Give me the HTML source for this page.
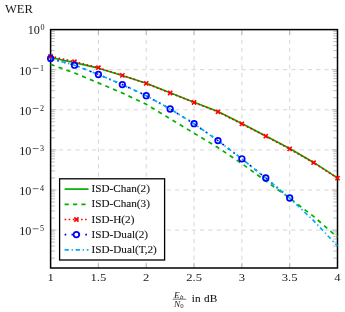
<!DOCTYPE html><html><head><meta charset="utf-8"><style>html,body{margin:0;padding:0;background:#fff}svg{display:block;will-change:transform;opacity:0.999}text{font-family:"Liberation Serif",serif;fill:#1a1a1a}</style></head><body>
<svg width="345" height="312" viewBox="0 0 345 312">
<rect width="345" height="312" fill="#fff"/>
<g stroke="#c4c4c4" stroke-width="0.7" stroke-dasharray="4.15 4.15" fill="none"><line x1="98.42" y1="268.00" x2="98.42" y2="29.60"/><line x1="146.23" y1="268.00" x2="146.23" y2="29.60"/><line x1="194.05" y1="268.00" x2="194.05" y2="29.60"/><line x1="241.87" y1="268.00" x2="241.87" y2="29.60"/><line x1="289.68" y1="268.00" x2="289.68" y2="29.60"/><line x1="50.60" y1="69.70" x2="337.50" y2="69.70"/><line x1="50.60" y1="109.80" x2="337.50" y2="109.80"/><line x1="50.60" y1="149.90" x2="337.50" y2="149.90"/><line x1="50.60" y1="190.00" x2="337.50" y2="190.00"/><line x1="50.60" y1="230.10" x2="337.50" y2="230.10"/></g>
<g stroke="#969696" stroke-width="0.6" fill="none"><line x1="50.60" y1="268.00" x2="50.60" y2="262.80"/><line x1="50.60" y1="29.60" x2="50.60" y2="34.80"/><line x1="98.42" y1="268.00" x2="98.42" y2="262.80"/><line x1="98.42" y1="29.60" x2="98.42" y2="34.80"/><line x1="146.23" y1="268.00" x2="146.23" y2="262.80"/><line x1="146.23" y1="29.60" x2="146.23" y2="34.80"/><line x1="194.05" y1="268.00" x2="194.05" y2="262.80"/><line x1="194.05" y1="29.60" x2="194.05" y2="34.80"/><line x1="241.87" y1="268.00" x2="241.87" y2="262.80"/><line x1="241.87" y1="29.60" x2="241.87" y2="34.80"/><line x1="289.68" y1="268.00" x2="289.68" y2="262.80"/><line x1="289.68" y1="29.60" x2="289.68" y2="34.80"/><line x1="337.50" y1="268.00" x2="337.50" y2="262.80"/><line x1="337.50" y1="29.60" x2="337.50" y2="34.80"/><line x1="50.60" y1="29.60" x2="56.50" y2="29.60"/><line x1="337.50" y1="29.60" x2="331.60" y2="29.60"/><line x1="50.60" y1="57.63" x2="54.90" y2="57.63"/><line x1="337.50" y1="57.63" x2="333.20" y2="57.63"/><line x1="50.60" y1="50.57" x2="54.90" y2="50.57"/><line x1="337.50" y1="50.57" x2="333.20" y2="50.57"/><line x1="50.60" y1="45.56" x2="54.90" y2="45.56"/><line x1="337.50" y1="45.56" x2="333.20" y2="45.56"/><line x1="50.60" y1="41.67" x2="54.90" y2="41.67"/><line x1="337.50" y1="41.67" x2="333.20" y2="41.67"/><line x1="50.60" y1="38.50" x2="54.90" y2="38.50"/><line x1="337.50" y1="38.50" x2="333.20" y2="38.50"/><line x1="50.60" y1="35.81" x2="54.90" y2="35.81"/><line x1="337.50" y1="35.81" x2="333.20" y2="35.81"/><line x1="50.60" y1="33.49" x2="54.90" y2="33.49"/><line x1="337.50" y1="33.49" x2="333.20" y2="33.49"/><line x1="50.60" y1="31.43" x2="54.90" y2="31.43"/><line x1="337.50" y1="31.43" x2="333.20" y2="31.43"/><line x1="50.60" y1="69.70" x2="56.50" y2="69.70"/><line x1="337.50" y1="69.70" x2="331.60" y2="69.70"/><line x1="50.60" y1="97.73" x2="54.90" y2="97.73"/><line x1="337.50" y1="97.73" x2="333.20" y2="97.73"/><line x1="50.60" y1="90.67" x2="54.90" y2="90.67"/><line x1="337.50" y1="90.67" x2="333.20" y2="90.67"/><line x1="50.60" y1="85.66" x2="54.90" y2="85.66"/><line x1="337.50" y1="85.66" x2="333.20" y2="85.66"/><line x1="50.60" y1="81.77" x2="54.90" y2="81.77"/><line x1="337.50" y1="81.77" x2="333.20" y2="81.77"/><line x1="50.60" y1="78.60" x2="54.90" y2="78.60"/><line x1="337.50" y1="78.60" x2="333.20" y2="78.60"/><line x1="50.60" y1="75.91" x2="54.90" y2="75.91"/><line x1="337.50" y1="75.91" x2="333.20" y2="75.91"/><line x1="50.60" y1="73.59" x2="54.90" y2="73.59"/><line x1="337.50" y1="73.59" x2="333.20" y2="73.59"/><line x1="50.60" y1="71.53" x2="54.90" y2="71.53"/><line x1="337.50" y1="71.53" x2="333.20" y2="71.53"/><line x1="50.60" y1="109.80" x2="56.50" y2="109.80"/><line x1="337.50" y1="109.80" x2="331.60" y2="109.80"/><line x1="50.60" y1="137.83" x2="54.90" y2="137.83"/><line x1="337.50" y1="137.83" x2="333.20" y2="137.83"/><line x1="50.60" y1="130.77" x2="54.90" y2="130.77"/><line x1="337.50" y1="130.77" x2="333.20" y2="130.77"/><line x1="50.60" y1="125.76" x2="54.90" y2="125.76"/><line x1="337.50" y1="125.76" x2="333.20" y2="125.76"/><line x1="50.60" y1="121.87" x2="54.90" y2="121.87"/><line x1="337.50" y1="121.87" x2="333.20" y2="121.87"/><line x1="50.60" y1="118.70" x2="54.90" y2="118.70"/><line x1="337.50" y1="118.70" x2="333.20" y2="118.70"/><line x1="50.60" y1="116.01" x2="54.90" y2="116.01"/><line x1="337.50" y1="116.01" x2="333.20" y2="116.01"/><line x1="50.60" y1="113.69" x2="54.90" y2="113.69"/><line x1="337.50" y1="113.69" x2="333.20" y2="113.69"/><line x1="50.60" y1="111.63" x2="54.90" y2="111.63"/><line x1="337.50" y1="111.63" x2="333.20" y2="111.63"/><line x1="50.60" y1="149.90" x2="56.50" y2="149.90"/><line x1="337.50" y1="149.90" x2="331.60" y2="149.90"/><line x1="50.60" y1="177.93" x2="54.90" y2="177.93"/><line x1="337.50" y1="177.93" x2="333.20" y2="177.93"/><line x1="50.60" y1="170.87" x2="54.90" y2="170.87"/><line x1="337.50" y1="170.87" x2="333.20" y2="170.87"/><line x1="50.60" y1="165.86" x2="54.90" y2="165.86"/><line x1="337.50" y1="165.86" x2="333.20" y2="165.86"/><line x1="50.60" y1="161.97" x2="54.90" y2="161.97"/><line x1="337.50" y1="161.97" x2="333.20" y2="161.97"/><line x1="50.60" y1="158.80" x2="54.90" y2="158.80"/><line x1="337.50" y1="158.80" x2="333.20" y2="158.80"/><line x1="50.60" y1="156.11" x2="54.90" y2="156.11"/><line x1="337.50" y1="156.11" x2="333.20" y2="156.11"/><line x1="50.60" y1="153.79" x2="54.90" y2="153.79"/><line x1="337.50" y1="153.79" x2="333.20" y2="153.79"/><line x1="50.60" y1="151.73" x2="54.90" y2="151.73"/><line x1="337.50" y1="151.73" x2="333.20" y2="151.73"/><line x1="50.60" y1="190.00" x2="56.50" y2="190.00"/><line x1="337.50" y1="190.00" x2="331.60" y2="190.00"/><line x1="50.60" y1="218.03" x2="54.90" y2="218.03"/><line x1="337.50" y1="218.03" x2="333.20" y2="218.03"/><line x1="50.60" y1="210.97" x2="54.90" y2="210.97"/><line x1="337.50" y1="210.97" x2="333.20" y2="210.97"/><line x1="50.60" y1="205.96" x2="54.90" y2="205.96"/><line x1="337.50" y1="205.96" x2="333.20" y2="205.96"/><line x1="50.60" y1="202.07" x2="54.90" y2="202.07"/><line x1="337.50" y1="202.07" x2="333.20" y2="202.07"/><line x1="50.60" y1="198.90" x2="54.90" y2="198.90"/><line x1="337.50" y1="198.90" x2="333.20" y2="198.90"/><line x1="50.60" y1="196.21" x2="54.90" y2="196.21"/><line x1="337.50" y1="196.21" x2="333.20" y2="196.21"/><line x1="50.60" y1="193.89" x2="54.90" y2="193.89"/><line x1="337.50" y1="193.89" x2="333.20" y2="193.89"/><line x1="50.60" y1="191.83" x2="54.90" y2="191.83"/><line x1="337.50" y1="191.83" x2="333.20" y2="191.83"/><line x1="50.60" y1="230.10" x2="56.50" y2="230.10"/><line x1="337.50" y1="230.10" x2="331.60" y2="230.10"/><line x1="50.60" y1="258.13" x2="54.90" y2="258.13"/><line x1="337.50" y1="258.13" x2="333.20" y2="258.13"/><line x1="50.60" y1="251.07" x2="54.90" y2="251.07"/><line x1="337.50" y1="251.07" x2="333.20" y2="251.07"/><line x1="50.60" y1="246.06" x2="54.90" y2="246.06"/><line x1="337.50" y1="246.06" x2="333.20" y2="246.06"/><line x1="50.60" y1="242.17" x2="54.90" y2="242.17"/><line x1="337.50" y1="242.17" x2="333.20" y2="242.17"/><line x1="50.60" y1="239.00" x2="54.90" y2="239.00"/><line x1="337.50" y1="239.00" x2="333.20" y2="239.00"/><line x1="50.60" y1="236.31" x2="54.90" y2="236.31"/><line x1="337.50" y1="236.31" x2="333.20" y2="236.31"/><line x1="50.60" y1="233.99" x2="54.90" y2="233.99"/><line x1="337.50" y1="233.99" x2="333.20" y2="233.99"/><line x1="50.60" y1="231.93" x2="54.90" y2="231.93"/><line x1="337.50" y1="231.93" x2="333.20" y2="231.93"/></g>
<rect x="50.60" y="29.60" width="286.90" height="238.40" fill="none" stroke="#000" stroke-width="1.5"/>
<g fill="none" stroke-linejoin="round">
<path d="M50.60,57.50 L74.51,62.60 L98.42,68.20 L122.32,75.50 L146.23,83.20 L170.14,92.70 L194.05,102.20 L217.96,111.50 L241.87,123.60 L265.77,135.90 L289.68,148.60 L313.59,162.40 L337.50,177.90" stroke="#00b000" stroke-width="1.7"/>
<path d="M50.60,64.40 L74.51,73.00 L98.42,82.90 L122.32,93.00 L146.23,104.30 L170.14,118.80 L194.05,133.20 L217.96,147.60 L241.87,163.60 L265.77,181.00 L289.68,198.20 L313.59,216.40 L337.50,237.20" stroke="#00b000" stroke-width="1.7" stroke-dasharray="4.2 4.2"/>
<path d="M50.60,56.30 L74.51,61.70 L98.42,67.70 L122.32,75.40 L146.23,83.40 L170.14,93.00 L194.05,102.50 L217.96,111.80 L241.87,123.90 L265.77,136.20 L289.68,148.90 L313.59,162.70 L337.50,178.20" stroke="#ff0000" stroke-width="1.7" stroke-dasharray="1.6 2.5"/>
<path d="M50.60,58.50 L74.51,65.20 L98.42,74.50 L122.32,84.60 L146.23,95.70 L170.14,109.00 L194.05,123.70 L217.96,140.60 L241.87,158.80 L265.77,178.00 L289.68,198.00" stroke="#0000ff" stroke-width="1.7" stroke-dasharray="1.7 5.2"/>
<path d="M50.60,58.50 L74.51,65.20 L98.42,74.50 L122.32,84.60 L146.23,95.70 L170.14,109.00 L194.05,123.70 L217.96,140.60 L241.87,158.80 L265.77,178.00 L289.68,198.00 L313.59,220.70 L337.50,246.00" stroke="#00aeef" stroke-width="1.7" stroke-dasharray="4.2 2.8 1.3 2.8"/>
</g>
<path d="M48.50,54.20 L52.70,58.40 M48.50,58.40 L52.70,54.20" stroke="#ff0000" stroke-width="1.60" fill="none"/>
<path d="M72.41,59.60 L76.61,63.80 M72.41,63.80 L76.61,59.60" stroke="#ff0000" stroke-width="1.60" fill="none"/>
<path d="M96.32,65.60 L100.52,69.80 M96.32,69.80 L100.52,65.60" stroke="#ff0000" stroke-width="1.60" fill="none"/>
<path d="M120.22,73.30 L124.42,77.50 M120.22,77.50 L124.42,73.30" stroke="#ff0000" stroke-width="1.60" fill="none"/>
<path d="M144.13,81.30 L148.33,85.50 M144.13,85.50 L148.33,81.30" stroke="#ff0000" stroke-width="1.60" fill="none"/>
<path d="M168.04,90.90 L172.24,95.10 M168.04,95.10 L172.24,90.90" stroke="#ff0000" stroke-width="1.60" fill="none"/>
<path d="M191.95,100.40 L196.15,104.60 M191.95,104.60 L196.15,100.40" stroke="#ff0000" stroke-width="1.60" fill="none"/>
<path d="M215.86,109.70 L220.06,113.90 M215.86,113.90 L220.06,109.70" stroke="#ff0000" stroke-width="1.60" fill="none"/>
<path d="M239.77,121.80 L243.97,126.00 M239.77,126.00 L243.97,121.80" stroke="#ff0000" stroke-width="1.60" fill="none"/>
<path d="M263.67,134.10 L267.88,138.30 M263.67,138.30 L267.88,134.10" stroke="#ff0000" stroke-width="1.60" fill="none"/>
<path d="M287.58,146.80 L291.78,151.00 M287.58,151.00 L291.78,146.80" stroke="#ff0000" stroke-width="1.60" fill="none"/>
<path d="M311.49,160.60 L315.69,164.80 M311.49,164.80 L315.69,160.60" stroke="#ff0000" stroke-width="1.60" fill="none"/>
<path d="M335.40,176.10 L339.60,180.30 M335.40,180.30 L339.60,176.10" stroke="#ff0000" stroke-width="1.60" fill="none"/>
<circle cx="50.60" cy="58.50" r="2.8" fill="none" stroke="#0000ff" stroke-width="1.7"/>
<circle cx="74.51" cy="65.20" r="2.8" fill="none" stroke="#0000ff" stroke-width="1.7"/>
<circle cx="98.42" cy="74.50" r="2.8" fill="none" stroke="#0000ff" stroke-width="1.7"/>
<circle cx="122.32" cy="84.60" r="2.8" fill="none" stroke="#0000ff" stroke-width="1.7"/>
<circle cx="146.23" cy="95.70" r="2.8" fill="none" stroke="#0000ff" stroke-width="1.7"/>
<circle cx="170.14" cy="109.00" r="2.8" fill="none" stroke="#0000ff" stroke-width="1.7"/>
<circle cx="194.05" cy="123.70" r="2.8" fill="none" stroke="#0000ff" stroke-width="1.7"/>
<circle cx="217.96" cy="140.60" r="2.8" fill="none" stroke="#0000ff" stroke-width="1.7"/>
<circle cx="241.87" cy="158.80" r="2.8" fill="none" stroke="#0000ff" stroke-width="1.7"/>
<circle cx="265.77" cy="178.00" r="2.8" fill="none" stroke="#0000ff" stroke-width="1.7"/>
<circle cx="289.68" cy="198.00" r="2.8" fill="none" stroke="#0000ff" stroke-width="1.7"/>
<rect x="59.60" y="178.80" width="105.00" height="81.20" fill="#fff" stroke="#000" stroke-width="1.3"/>
<g fill="none">
<line x1="64.60" y1="189.10" x2="88.50" y2="189.10" stroke="#00b000" stroke-width="1.7"/>
<line x1="64.60" y1="204.30" x2="88.50" y2="204.30" stroke="#00b000" stroke-width="1.7" stroke-dasharray="4.2 4.2"/>
<line x1="64.60" y1="219.50" x2="88.50" y2="219.50" stroke="#ff0000" stroke-width="1.7" stroke-dasharray="1.6 2.5"/>
<line x1="64.60" y1="234.60" x2="88.50" y2="234.60" stroke="#0000ff" stroke-width="1.7" stroke-dasharray="1.7 5.2"/>
<line x1="64.60" y1="249.80" x2="88.50" y2="249.80" stroke="#00aeef" stroke-width="1.7" stroke-dasharray="4.2 2.8 1.3 2.8"/>
</g>
<path d="M74.30,217.40 L78.50,221.60 M74.30,221.60 L78.50,217.40" stroke="#ff0000" stroke-width="1.60" fill="none"/>
<circle cx="76.4" cy="234.60" r="2.8" fill="none" stroke="#0000ff" stroke-width="1.7"/>
<text x="91.5" y="192.30" font-size="11.2" fill="#000" stroke="#000" stroke-width="0.12">ISD-Chan(2)</text>
<text x="91.5" y="207.40" font-size="11.2" fill="#000" stroke="#000" stroke-width="0.12">ISD-Chan(3)</text>
<text x="91.5" y="222.50" font-size="11.2" fill="#000" stroke="#000" stroke-width="0.12">ISD-H(2)</text>
<text x="91.5" y="237.60" font-size="11.2" fill="#000" stroke="#000" stroke-width="0.12">ISD-Dual(2)</text>
<text x="91.5" y="252.70" font-size="11.2" fill="#000" stroke="#000" stroke-width="0.12">ISD-Dual(T,2)</text>
<text transform="translate(50.60,280.6) scale(1.125,1)" font-size="11.2" text-anchor="middle">1</text>
<text transform="translate(98.42,280.6) scale(1.125,1)" font-size="11.2" text-anchor="middle">1.5</text>
<text transform="translate(146.23,280.6) scale(1.125,1)" font-size="11.2" text-anchor="middle">2</text>
<text transform="translate(194.05,280.6) scale(1.125,1)" font-size="11.2" text-anchor="middle">2.5</text>
<text transform="translate(241.87,280.6) scale(1.125,1)" font-size="11.2" text-anchor="middle">3</text>
<text transform="translate(289.68,280.6) scale(1.125,1)" font-size="11.2" text-anchor="middle">3.5</text>
<text transform="translate(337.50,280.6) scale(1.125,1)" font-size="11.2" text-anchor="middle">4</text>
<text transform="translate(39.9,33.50) scale(1.05,1)" font-size="11.6" text-anchor="end">10</text>
<text x="40.4" y="29.70" font-size="8.1">0</text>
<text transform="translate(31.3,74.55) scale(1.05,1)" font-size="11.6" text-anchor="end">10</text>
<line x1="32.7" y1="68.35" x2="38.5" y2="68.35" stroke="#1a1a1a" stroke-width="0.65"/>
<text x="40.1" y="70.75" font-size="8.1">1</text>
<text transform="translate(31.3,114.65) scale(1.05,1)" font-size="11.6" text-anchor="end">10</text>
<line x1="32.7" y1="108.45" x2="38.5" y2="108.45" stroke="#1a1a1a" stroke-width="0.65"/>
<text x="40.1" y="110.85" font-size="8.1">2</text>
<text transform="translate(31.3,154.75) scale(1.05,1)" font-size="11.6" text-anchor="end">10</text>
<line x1="32.7" y1="148.55" x2="38.5" y2="148.55" stroke="#1a1a1a" stroke-width="0.65"/>
<text x="40.1" y="150.95" font-size="8.1">3</text>
<text transform="translate(31.3,194.85) scale(1.05,1)" font-size="11.6" text-anchor="end">10</text>
<line x1="32.7" y1="188.65" x2="38.5" y2="188.65" stroke="#1a1a1a" stroke-width="0.65"/>
<text x="40.1" y="191.05" font-size="8.1">4</text>
<text transform="translate(31.3,234.95) scale(1.05,1)" font-size="11.6" text-anchor="end">10</text>
<line x1="32.7" y1="228.75" x2="38.5" y2="228.75" stroke="#1a1a1a" stroke-width="0.65"/>
<text x="40.1" y="231.15" font-size="8.1">5</text>
<text x="5" y="13" font-size="11.8" textLength="27.9" lengthAdjust="spacingAndGlyphs">WER</text>
<text x="173.9" y="297.6" font-size="9.2" font-style="italic" letter-spacing="0.4">E<tspan font-size="6.8" dy="1.4">b</tspan></text>
<line x1="172.6" y1="299.2" x2="186.1" y2="299.2" stroke="#1a1a1a" stroke-width="0.6"/>
<text x="174.1" y="306.5" font-size="9.2" letter-spacing="0.4"><tspan font-style="italic">N</tspan><tspan font-size="6.8" dy="1.3" dx="-0.3">0</tspan></text>
<text x="191.8" y="301.6" font-size="11.3" word-spacing="0.6" fill="#000" stroke="#000" stroke-width="0.1">in dB</text>
</svg></body></html>
